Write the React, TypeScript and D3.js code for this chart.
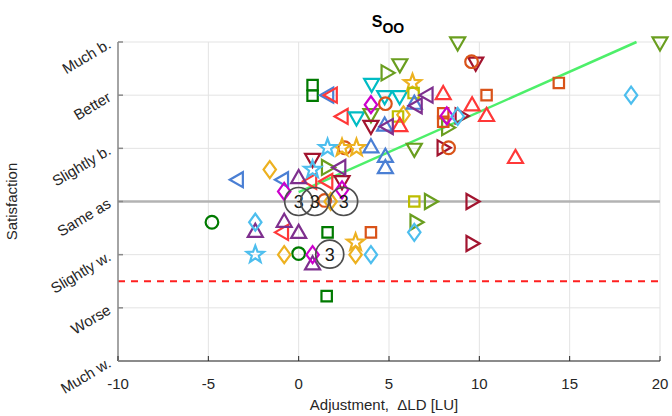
import React from "react";
import * as d3 from "d3";

// satisfaction levels, top to bottom value 3 .. -3
const levelLabels = ["Much w.", "Worse", "Slightly w.", "Same as", "Slightly b.", "Better", "Much b."];
const levelValues = [-3, -2, -1, 0, 1, 2, 3];
const xTicks = [-10, -5, 0, 5, 10, 15, 20];

// each series: [adjustment ΔLD, satisfaction]
const darkGreenSquare = [[0.77, 2.19], [0.77, 1.99], [1.6, -0.58], [1.55, -1.78]];
const darkGreenCircle = [[-4.8, -0.39], [0, -0.98]];
const blueLeft = [[1.6, 2.0], [-0.9, 0.41], [-3.4, 0.41]];
const redLeft = [[1.8, 2.0], [2.4, 1.6], [0.66, 0.38], [1.55, 0.38], [-0.9, -0.58]];
const tealDown = [[4.04, 2.2], [4.76, 1.97], [5.59, 1.97], [3.2, 1.57]];
const oliveDown = [[8.8, 2.98], [20, 2.98], [5.6, 2.57], [4.0, 1.63], [6.4, 0.98]];
const oliveRight = [[4.9, 2.42], [1.6, 0.64], [8.25, 1.39], [7.3, 0], [6.5, -0.39]];
const darkRedDown = [[9.8, 2.6], [4.0, 1.41], [0.77, 0.79], [2.4, 0.37]];
const darkRedRight = [[9.0, 1.61], [8.0, 1.01], [9.6, 0], [9.6, -0.79]];
const orangeCircle = [[9.57, 2.63], [4.8, 1.84], [2.55, 1.01], [8.3, 1.01], [1.44, 0.02]];
const orangeSquare = [[10.4, 2.0], [14.4, 2.23], [8.0, 1.66], [8.0, 1.5], [4.0, -0.58]];
const yellowStar = [[6.3, 2.23], [2.4, 1.01], [3.2, 1.01], [3.15, -0.77]];
const yellowDiamond = [[5.8, 1.63], [-1.6, 0.6], [1.77, 0], [3.15, -1.0], [-0.8, -1.0]];
const oliveYellowSquare = [[6.36, 2.04], [5.5, 1.6], [6.4, 0]];
const redUp = [[8.0, 2.03], [9.6, 1.82], [10.4, 1.62], [5.6, 1.43], [12.0, 0.83]];
const blueUp = [[6.4, 1.85], [4.76, 1.44], [4.0, 1.03], [4.8, 0.85], [4.8, 0.64]];
const purpleLeft = [[6.5, 1.8], [7.1, 2.0], [4.9, 1.41], [2.27, 0.64]];
const purpleUp = [[0, 0.45], [-2.4, -0.56], [-0.8, -0.37], [0, -0.58], [0.77, -1.17]];
const magentaDiamond = [[4.0, 1.82], [8.2, 1.61], [-0.8, 0.19], [2.4, 0.22], [0.77, -1.0]];
const lightBlueDiamond = [[8.8, 1.6], [18.4, 2.0], [-2.4, -0.39], [4.0, -1.0], [6.4, -0.58]];
const lightBlueStar = [[1.6, 1.01], [0.77, 0.6], [-2.4, -1.0]];

// places where 3 responses coincide
const overlapPoints = [[0, 0], [0.89, 0], [2.49, 0], [1.72, -0.99]];
const overlapCount = ["3", "3", "3", "3"];

const fitLine = [[0, 0.175], [18.7, 3.0]];
const thresholdValue = -1.5;

const series = [
  { data: darkGreenSquare, color: "#007a00", marker: "square" },
  { data: darkGreenCircle, color: "#007a00", marker: "circle" },
  { data: blueLeft, color: "#4a7fd4", marker: "left" },
  { data: redLeft, color: "#ff3838", marker: "left" },
  { data: tealDown, color: "#00bcc4", marker: "down" },
  { data: oliveDown, color: "#6a9e1f", marker: "down" },
  { data: oliveRight, color: "#6a9e1f", marker: "right" },
  { data: darkRedDown, color: "#a2142f", marker: "down" },
  { data: darkRedRight, color: "#a2142f", marker: "right" },
  { data: orangeCircle, color: "#d95319", marker: "circle" },
  { data: orangeSquare, color: "#d95319", marker: "square" },
  { data: yellowStar, color: "#edb120", marker: "star" },
  { data: yellowDiamond, color: "#edb120", marker: "diamond" },
  { data: oliveYellowSquare, color: "#bdbd00", marker: "square" },
  { data: redUp, color: "#ff3838", marker: "up" },
  { data: blueUp, color: "#4a7fd4", marker: "up" },
  { data: purpleLeft, color: "#7e2f8e", marker: "left" },
  { data: purpleUp, color: "#7e2f8e", marker: "up" },
  { data: magentaDiamond, color: "#cc00cc", marker: "diamond" },
  { data: lightBlueDiamond, color: "#4dbeee", marker: "diamond" },
  { data: lightBlueStar, color: "#4dbeee", marker: "star" },
];

const W = 672;
const H = 416;
const M = { left: 118, right: 12, top: 42, bottom: 55 };

function markerPath(type: string) {
  const r = 7.5;
  switch (type) {
    case "up":
      return `M0,${-r} L${r},${r * 0.75} L${-r},${r * 0.75} Z`;
    case "down":
      return `M0,${r} L${r},${-r * 0.75} L${-r},${-r * 0.75} Z`;
    case "left":
      return `M${-r},0 L${r * 0.75},${-r} L${r * 0.75},${r} Z`;
    case "right":
      return `M${r},0 L${-r * 0.75},${-r} L${-r * 0.75},${r} Z`;
    case "square":
      return "M-5.2,-5.2 H5.2 V5.2 H-5.2 Z";
    case "diamond":
      return "M0,-8.5 L6.2,0 L0,8.5 L-6.2,0 Z";
    case "circle":
      return d3.symbol(d3.symbolCircle, Math.PI * 40)() as string;
    case "star": {
      const pts = d3.range(10).map((i) => {
        const a = (i * Math.PI) / 5 - Math.PI / 2;
        const rr = i % 2 === 0 ? 9 : 3.7;
        return [rr * Math.cos(a), rr * Math.sin(a)];
      });
      return "M" + pts.map((p) => p.join(",")).join("L") + "Z";
    }
  }
  return "";
}

export default function App() {
  const x = d3.scaleLinear().domain([-10, 20]).range([M.left, W - M.right]);
  const y = d3.scaleLinear().domain([-3, 3]).range([H - M.bottom, M.top]);
  const line = d3.line<number[]>().x((d) => x(d[0])).y((d) => y(d[1]));
  const font = "'Liberation Sans', Arial, sans-serif";

  return (
    <div style={{ position: "fixed", left: 0, top: 0 }}>
      <svg width={W} height={H} style={{ display: "block", fontFamily: font }}>
        <rect width={W} height={H} fill="#fff" />
        {/* grid */}
        {xTicks.map((t) => (
          <line key={"gx" + t} x1={x(t)} x2={x(t)} y1={y(-3)} y2={y(3)} stroke="#e3e3e3" strokeWidth={1} />
        ))}
        {levelValues.map((v) => (
          <line key={"gy" + v} x1={x(-10)} x2={x(20)} y1={y(v)} y2={y(v)} stroke="#e3e3e3" strokeWidth={1} />
        ))}
        {/* reference lines */}
        <line x1={x(-10)} x2={x(20)} y1={y(0)} y2={y(0)} stroke="#b3b3b3" strokeWidth={2.5} />
        <line x1={x(-10)} x2={x(20)} y1={y(thresholdValue)} y2={y(thresholdValue)} stroke="#ff1f1f" strokeWidth={2} strokeDasharray="7,6" />
        {/* axes */}
        <line x1={x(-10)} x2={x(20)} y1={y(-3)} y2={y(-3)} stroke="#262626" strokeWidth={1.2} />
        <line x1={x(-10)} x2={x(-10)} y1={y(-3)} y2={y(3)} stroke="#8a8a8a" strokeWidth={1.5} />
        {xTicks.map((t) => (
          <g key={"xt" + t}>
            <line x1={x(t)} x2={x(t)} y1={y(-3)} y2={y(-3) - 5} stroke="#262626" strokeWidth={1} />
            <text x={x(t)} y={y(-3) + 28} textAnchor="middle" fontSize={15} fill="#262626">
              {t}
            </text>
          </g>
        ))}
        {levelValues.map((v, i) => (
          <g key={"yt" + v}>
            <line x1={x(-10)} x2={x(-10) + 5} y1={y(v)} y2={y(v)} stroke="#8a8a8a" strokeWidth={1.5} />
            <text
              transform={`translate(${x(-10) - 6},${y(v) + 5}) rotate(-31)`}
              textAnchor="end"
              fontSize={15}
              fill="#262626"
            >
              {levelLabels[i]}
            </text>
          </g>
        ))}
        <text x={384} y={410} textAnchor="middle" fontSize={15} fill="#262626" style={{ whiteSpace: "pre" }}>
          {"Adjustment,  ΔLD [LU]"}
        </text>
        <text transform={`translate(17,${y(0)}) rotate(-90)`} textAnchor="middle" fontSize={15} fill="#262626">
          Satisfaction
        </text>
        <text x={388} y={27} textAnchor="middle" fontWeight="bold" fill="#000">
          <tspan fontSize={16}>S</tspan>
          <tspan fontSize={14} dy={6}>OO</tspan>
        </text>
        {/* fit */}
        <path d={line(fitLine) as string} fill="none" stroke="#4def6a" strokeWidth={2.5} />
        {/* markers */}
        {series.map((s, i) => (
          <g key={"s" + i}>
            {s.data.map((d, j) => (
              <path
                key={j}
                d={markerPath(s.marker)}
                transform={`translate(${x(d[0])},${y(d[1])})`}
                fill="none"
                stroke={s.color}
                strokeWidth={2.2}
              />
            ))}
          </g>
        ))}
        {/* overlap counts */}
        {overlapPoints.map((d, i) => (
          <g key={"o" + i} transform={`translate(${x(d[0])},${y(d[1])})`}>
            <circle r={14} fill="none" stroke="#4d4d4d" strokeWidth={1.7} />
            <text y={6.5} textAnchor="middle" fontSize={18} fill="#1a1a1a">
              {overlapCount[i]}
            </text>
          </g>
        ))}
      </svg>
    </div>
  );
}
